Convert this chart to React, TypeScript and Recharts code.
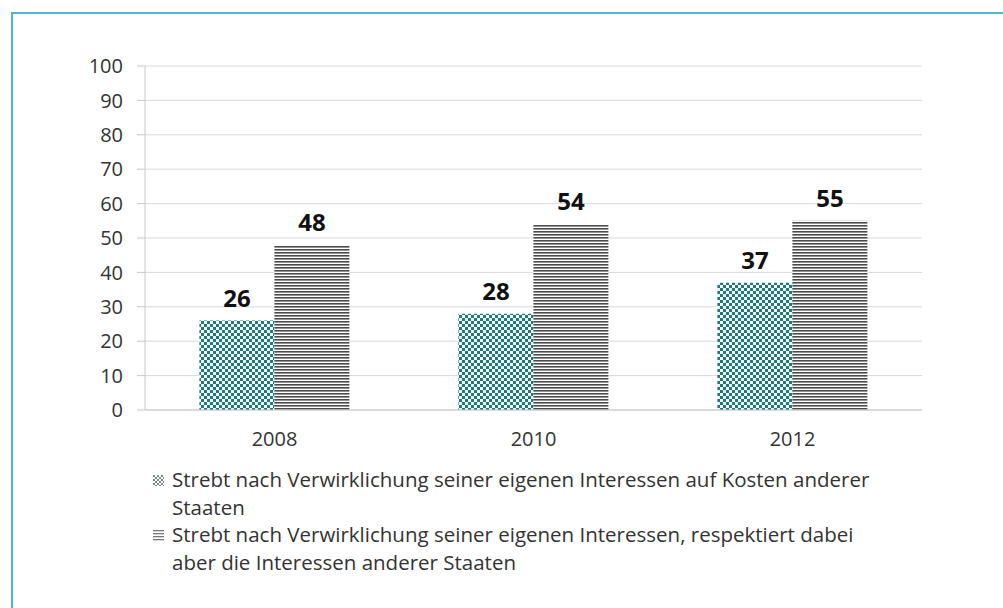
import React from "react";
import { BarChart, Bar, XAxis, YAxis, CartesianGrid, LabelList } from "recharts";

const categories = ["2008", "2010", "2012"];
const seriesKosten = [26, 28, 37];
const seriesRespekt = [48, 54, 55];
const yTicks = [0, 10, 20, 30, 40, 50, 60, 70, 80, 90, 100];
const seriesNames = [
  "Strebt nach Verwirklichung seiner eigenen Interessen auf Kosten anderer Staaten",
  "Strebt nach Verwirklichung seiner eigenen Interessen, respektiert dabei aber die Interessen anderer Staaten",
];

const data = categories.map((c, i) => ({ year: c, a: seriesKosten[i], b: seriesRespekt[i] }));

const FONT = "'Open Sans', 'DejaVu Sans', sans-serif";

const LegendBlock = () => (
  <div
    style={{
      position: "absolute",
      left: 153,
      top: 466,
      fontFamily: FONT,
      fontSize: 20.5,
      lineHeight: "27.7px",
      color: "#333",
      width: 740,
    }}
  >
    {seriesNames.map((n, i) => (
      <div key={i} style={{ position: "relative", paddingLeft: 19 }}>
        <svg width={11} height={11} style={{ position: "absolute", left: 0, top: 9 }}>
          <defs>
            <pattern id={"lg" + i} width={4} height={i === 0 ? 4 : 3} patternUnits="userSpaceOnUse">
              {i === 0 ? (
                <>
                  <rect width={4} height={4} fill="#fff" />
                  <rect x={0} y={0} width={2} height={2} fill="#7a8a8a" />
                  <rect x={2} y={2} width={2} height={2} fill="#7a8a8a" />
                </>
              ) : (
                <>
                  <rect width={4} height={3} fill="#fff" />
                  <rect x={0} y={0} width={4} height={1.3} fill="#777" />
                </>
              )}
            </pattern>
          </defs>
          <rect x={0} y={0} width={11} height={11} fill={"url(#lg" + i + ")"} />
        </svg>
        {n}
      </div>
    ))}
  </div>
);

export default function App() {
  return (
    <div style={{ position: "absolute", left: 0, top: 0, width: 1003, height: 608, background: "#fff", overflow: "hidden" }}>
      <div
        style={{
          position: "absolute",
          left: 11,
          top: 12,
          width: 1100,
          height: 700,
          borderLeft: "2px solid #4db6cf",
          borderTop: "2px solid #4db6cf",
        }}
      />
      <div style={{ position: "absolute", left: 0, top: 0 }}>
        <BarChart
          width={1003}
          height={608}
          data={data}
          margin={{ top: 66, right: 81, bottom: 168, left: 85 }}
          barCategoryGap="21%"
          barGap={0}
        >
          <defs>
            <pattern id="checkPat" width={6} height={6} patternUnits="userSpaceOnUse">
              <rect width={6} height={6} fill="#ffffff" />
              <rect x={0} y={0} width={3} height={3} fill="#1f7b7b" />
              <rect x={3} y={3} width={3} height={3} fill="#1f7b7b" />
              <rect x={3} y={0} width={3} height={3} fill="#e8f4f4" />
            </pattern>
            <pattern id="linePat" width={6} height={3} patternUnits="userSpaceOnUse">
              <rect width={6} height={3} fill="#ffffff" />
              <rect x={0} y={0} width={6} height={1.6} fill="#4a4a4a" />
            </pattern>
          </defs>
          <CartesianGrid vertical={false} stroke="#d9d9d9" />
          <XAxis
            dataKey="year"
            height={30}
            tickLine={false}
            tickSize={8}
            tickMargin={14}
            axisLine={{ stroke: "#c8c8c8" }}
            tick={{ fontFamily: FONT, fontSize: 20, fill: "#333" }}
          />
          <YAxis
            width={60}
            domain={[0, 100]}
            ticks={yTicks}
            interval={0}
            tickSize={8}
            tickMargin={14}
            axisLine={{ stroke: "#c8c8c8" }}
            tickLine={{ stroke: "#c8c8c8" }}
            tick={{ fontFamily: FONT, fontSize: 20, fill: "#333" }}
          />
          <Bar dataKey="a" name={seriesNames[0]} fill="url(#checkPat)" isAnimationActive={false}>
            <LabelList dataKey="a" position="top" offset={14} style={{ fontFamily: FONT, fontSize: 24, fontWeight: 700, fill: "#111" }} />
          </Bar>
          <Bar dataKey="b" name={seriesNames[1]} fill="url(#linePat)" isAnimationActive={false}>
            <LabelList dataKey="b" position="top" offset={14} style={{ fontFamily: FONT, fontSize: 24, fontWeight: 700, fill: "#111" }} />
          </Bar>
        </BarChart>
      </div>
      <LegendBlock />
    </div>
  );
}
